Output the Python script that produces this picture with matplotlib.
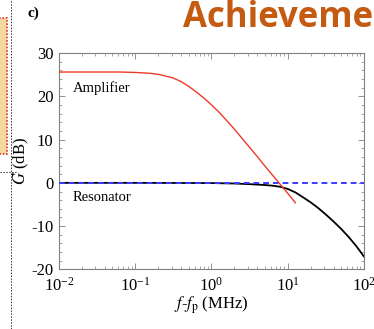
import numpy as np
import matplotlib
matplotlib.use("Agg")
import matplotlib.pyplot as plt
from matplotlib.patches import Rectangle
from matplotlib.ticker import MultipleLocator, LogLocator, NullFormatter

plt.rcParams['font.family'] = 'Liberation Serif'
plt.rcParams['mathtext.fontset'] = 'stix'
plt.rcParams['axes.unicode_minus'] = False

# --- data (frequency offset in MHz, gain in dB) ---
amp_f = [0.01, 0.032, 0.063, 0.1, 0.158, 0.211, 0.316, 0.398, 0.501, 0.631,
         0.794, 1.0, 1.26, 1.58, 2.0, 2.51, 3.16, 3.98, 5.01, 6.31, 7.94,
         10.0, 12.6]
amp_g = [25.6, 25.6, 25.6, 25.5, 25.3, 25.0, 24.2, 23.4, 22.3, 21.0,
         19.6, 18.0, 16.3, 14.4, 12.4, 10.3, 8.2, 6.1, 3.9, 1.8, -0.3,
         -2.4, -4.6]

res_f = [0.01, 0.1, 1.0, 2.0, 3.16, 5.01, 6.31, 7.94, 10.0, 12.6, 15.8,
         20.0, 25.1, 31.6, 39.8, 50.1, 63.1, 79.4, 100.0]
res_g = [0.0, 0.0, -0.05, -0.15, -0.3, -0.5, -0.65, -0.9, -1.4, -2.2, -3.3,
         -4.5, -5.8, -7.3, -8.9, -10.6, -12.5, -14.6, -17.0]

ref_f = [0.01, 100.0]
ref_g = [0.0, 0.0]

fig = plt.figure(figsize=(3.74, 3.29), dpi=100)
ax = fig.add_axes([0.158, 0.181, 0.815, 0.658])

ax.plot(res_f, res_g, color='black', lw=1.3, zorder=2)
ax.plot(ref_f, ref_g, color='#3b3bff', lw=1.4, ls=(0, (3, 2)), zorder=3)
ax.plot(amp_f, amp_g, color='#ee3a2a', lw=1.0, zorder=4)

ax.set_xscale('log')
ax.set_xlim(0.01, 100)
ax.set_ylim(-20, 30)
ax.set_yticks([-20, -10, 0, 10, 20, 30])
ax.yaxis.set_minor_locator(MultipleLocator(2))
ax.xaxis.set_major_locator(LogLocator(base=10, numticks=10))
ax.xaxis.set_minor_locator(LogLocator(base=10, subs=np.arange(2, 10), numticks=20))
ax.xaxis.set_minor_formatter(NullFormatter())

for s in ax.spines.values():
    s.set_color('#808080')
    s.set_linewidth(0.8)
ax.tick_params(which='both', direction='in', top=True, right=True,
               color='#808080', labelsize=12)
ax.tick_params(axis='x', which='major', pad=5)
ax.tick_params(axis='y', which='major', pad=4)
ax.tick_params(which='major', length=4, width=0.6)
ax.tick_params(which='minor', length=2, width=0.5)

ax.set_xlabel(r'$f$-$f_{\rm p}$ (MHz)', fontsize=12, labelpad=0)
ax.set_ylabel(r'$G$ (dB)', fontsize=12, labelpad=0)

ax.text(0.015, 21.8, 'Amplifier', fontsize=10.5, va='center')
ax.text(0.015, -3.4, 'Resonator', fontsize=10.5, va='center')

# panel decorations around the chart
fig.text(27 / 374, 1 - 13 / 329, 'c)', fontsize=11, fontweight='bold', va='center')
fig.text(183 / 374, 1 - 27 / 329, 'Achievements', fontsize=25, fontweight='bold',
         family='Open Sans', color='#c55a11', va='baseline')
fig.add_artist(plt.Line2D([11 / 374, 11 / 374], [0, 1], color='#333333',
                          lw=0.7, ls=(0, (1.5, 1.5))))
fig.add_artist(plt.Line2D([0, 17 / 374], [1 - 172 / 329, 1 - 172 / 329],
                          color='#333333', lw=0.7, ls=(0, (1.5, 1.5))))
fig.add_artist(Rectangle((-0.01, 1 - 154 / 329), 6.5 / 374 + 0.01, 136 / 329,
                         transform=fig.transFigure, facecolor='#f3d9a0',
                         edgecolor='#e8322a', lw=1.2, ls=(0, (1, 1))))

fig.savefig('out.png', dpi=100)
